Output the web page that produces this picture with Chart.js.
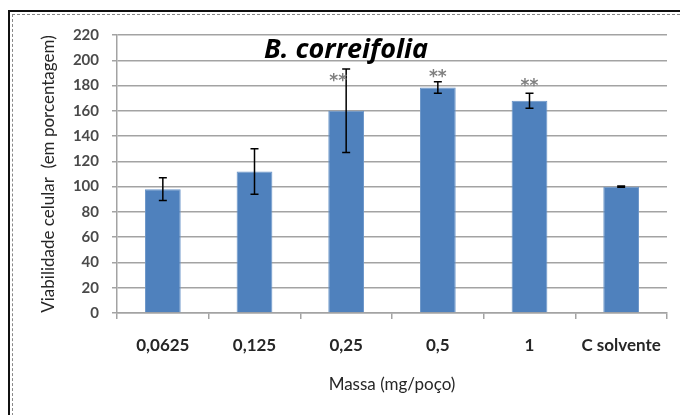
<!DOCTYPE html>
<html lang="pt">
<head>
    <meta charset="UTF-8">
    <title>B. correifolia</title>
    <style>
        html, body {
            margin: 0;
            padding: 0;
            background: #fff;
        }
        .wrap {
            position: relative;
            width: 680px;
            height: 415px;
            overflow: hidden;
        }
        #chart {
            position: absolute;
            left: 0;
            top: 0;
        }
        /* moldura do gráfico */
        .frame {
            position: absolute;
            left: 8px;
            top: 10px;
            width: 700px;
            height: 404px;
            border-left: 2px solid #111;
            border-top: 2px solid #111;
            border-bottom: 1px solid #e4e4e4;
            pointer-events: none;
        }
        .frame-inner {
            position: absolute;
            left: 2px;
            top: 2px;
            right: 0;
            bottom: 0;
            border-left: 1px dashed #888;
            border-top: 1px dashed #888;
        }
    </style>
</head>
<body>
    <div class="wrap">
        <canvas id="chart" width="680" height="415"></canvas>
        <div class="frame"><div class="frame-inner"></div></div>
    </div>

    <script src="https://cdn.jsdelivr.net/npm/chart.js@4/dist/chart.umd.min.js"></script>
    <script>
        const categories = ['0,0625', '0,125', '0,25', '0,5', '1', 'C solvente'];
        const viabilidade = [98, 112, 160, 178.5, 168, 100];
        const erro = [9, 18, 33, 4.5, 6, 0.5];
        const signif = ['', '', '**', '**', '**', ''];
        const signifAt = [null, null, 187, 190, 183, null];
        const yTicks = [0, 20, 40, 60, 80, 100, 120, 140, 160, 180, 200, 220];

        const gridColor = '#a3a3a3';

        // barras de erro desenhadas a partir das escalas
        const errorBars = {
            id: 'errorBars',
            afterDatasetsDraw(chart) {
                const ctx = chart.ctx;
                const x = chart.scales.x;
                const y = chart.scales.y;
                ctx.save();
                ctx.strokeStyle = '#000';
                ctx.lineWidth = 1.5;
                viabilidade.forEach((v, i) => {
                    const px = x.getPixelForValue(i);
                    const top = y.getPixelForValue(v + erro[i]);
                    const bot = y.getPixelForValue(v - erro[i]);
                    ctx.beginPath();
                    ctx.moveTo(px, top);
                    ctx.lineTo(px, bot);
                    ctx.moveTo(px - 4, top);
                    ctx.lineTo(px + 4, top);
                    ctx.moveTo(px - 4, bot);
                    ctx.lineTo(px + 4, bot);
                    ctx.stroke();
                });
                // asteriscos de significância
                ctx.fillStyle = '#808080';
                ctx.font = 'bold 17px "DejaVu Sans"';
                ctx.textAlign = 'center';
                ctx.textBaseline = 'middle';
                signif.forEach((s, i) => {
                    if (!s) return;
                    let px = x.getPixelForValue(i);
                    if (i === 2) px -= 8;
                    ctx.fillText(s, px, y.getPixelForValue(signifAt[i]) + 5);
                });
                ctx.restore();
            }
        };

        const titlePlugin = {
            id: 'titleText',
            afterDraw(chart) {
                const ctx = chart.ctx;
                ctx.save();
                ctx.fillStyle = '#000';
                ctx.font = 'italic bold 27px "Open Sans"';
                ctx.textAlign = 'center';
                ctx.textBaseline = 'alphabetic';
                ctx.fillText('B. correifolia', 346, 58);
                ctx.restore();
            }
        };

        new Chart(document.getElementById('chart'), {
            type: 'bar',
            data: {
                labels: categories,
                datasets: [{
                    data: viabilidade,
                    backgroundColor: '#4f81bd',
                    borderColor: '#6b95c8',
                    borderWidth: 1,
                    barPercentage: 0.39,
                    categoryPercentage: 1
                }]
            },
            options: {
                responsive: false,
                animation: false,
                events: [],
                layout: {
                    padding: { left: 0, right: 13, top: 35, bottom: 0 }
                },
                plugins: {
                    legend: { display: false },
                    tooltip: { enabled: false }
                },
                scales: {
                    x: {
                        grid: {
                            display: true,
                            drawOnChartArea: false,
                            offset: true,
                            tickLength: 6,
                            color: gridColor,
                            lineWidth: 1.5
                        },
                        border: { display: true, color: gridColor, width: 1.5 },
                        ticks: {
                            color: '#262626',
                            font: { family: 'Lato', size: 17, weight: 'bold' },
                            padding: 16,
                            maxRotation: 0
                        },
                        title: {
                            display: true,
                            text: 'Massa (mg/poço)',
                            color: '#262626',
                            font: { family: 'Lato', size: 17 },
                            padding: { top: 0, bottom: 20 }
                        },
                        afterFit(scale) { scale.height = 102; }
                    },
                    y: {
                        min: 0,
                        max: 220,
                        afterBuildTicks(scale) {
                            scale.ticks = yTicks.map(v => ({ value: v }));
                        },
                        grid: {
                            color: gridColor,
                            lineWidth: 1.5,
                            tickLength: 5
                        },
                        border: { display: true, color: gridColor, width: 1.5 },
                        ticks: {
                            color: '#4a4a4a',
                            font: { family: 'Lato', size: 15, weight: 'bold' },
                            padding: 13
                        },
                        title: {
                            display: true,
                            text: 'Viabilidade celular  (em porcentagem)',
                            color: '#262626',
                            font: { family: 'Lato', size: 17 },
                            padding: { top: 38, bottom: 0 }
                        },
                        afterFit(scale) { scale.width = 117; }
                    }
                }
            },
            plugins: [errorBars, titlePlugin]
        });
    </script>
</body>
</html>
